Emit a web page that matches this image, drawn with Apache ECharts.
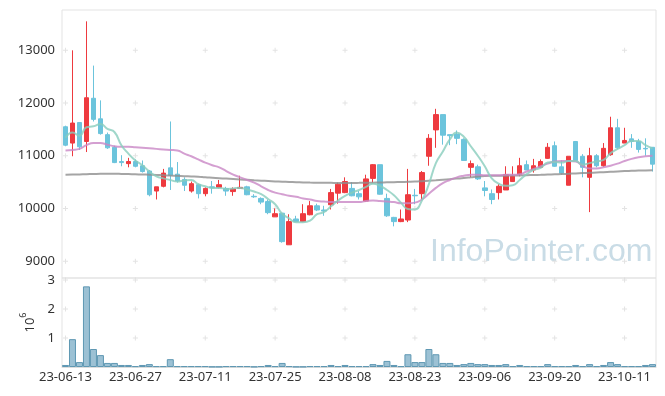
<!DOCTYPE html>
<html><head><meta charset="utf-8">
<script src="https://cdn.jsdelivr.net/npm/echarts@6/dist/echarts.min.js"></script>
<style>html,body{margin:0;padding:0;background:#fff}#c{width:665px;height:396px}</style>
</head><body><div id="c"></div>
<script>
const dates = ['23-06-13','23-06-14','23-06-15','23-06-16','23-06-19','23-06-20','23-06-21','23-06-22','23-06-23','23-06-26',
'23-06-27','23-06-28','23-06-29','23-06-30','23-07-03','23-07-04','23-07-05','23-07-06','23-07-07','23-07-10',
'23-07-11','23-07-12','23-07-13','23-07-14','23-07-17','23-07-18','23-07-19','23-07-20','23-07-21','23-07-24',
'23-07-25','23-07-26','23-07-27','23-07-28','23-07-31','23-08-01','23-08-02','23-08-03','23-08-04','23-08-07',
'23-08-08','23-08-09','23-08-10','23-08-11','23-08-14','23-08-16','23-08-17','23-08-18','23-08-21','23-08-22',
'23-08-23','23-08-24','23-08-25','23-08-28','23-08-29','23-08-30','23-08-31','23-09-01','23-09-04','23-09-05',
'23-09-06','23-09-07','23-09-08','23-09-11','23-09-12','23-09-13','23-09-14','23-09-15','23-09-18','23-09-19',
'23-09-20','23-09-21','23-09-22','23-09-25','23-09-26','23-09-27','23-10-04','23-10-05','23-10-06','23-10-10',
'23-10-11','23-10-12','23-10-13','23-10-16','23-10-17'];

const opens = [11550,11240,11630,11270,12090,11700,11400,11160,10890,10850,
10890,10810,10710,10330,10420,10770,10650,10550,10330,10450,
10280,10410,10400,10380,10320,10380,10410,10230,10190,10130,
9840,9910,9310,9800,9750,9880,10050,9970,10070,10290,
10300,10380,10280,10140,10570,10830,10190,9830,9750,9780,
10250,10280,10990,11490,11780,11400,11410,11310,10780,10790,
10390,10280,10300,10350,10510,10650,10830,10730,10780,10950,
11190,10790,10440,11270,10990,10590,11000,10810,11020,11530,
11240,11320,11270,11140,11160];
const closes = [11200,11620,11170,12100,11690,11420,11150,10870,10870,10890,
10800,10700,10260,10410,10670,10630,10520,10440,10470,10280,
10380,10390,10450,10330,10370,10400,10260,10220,10120,9920,
9900,9370,9750,9750,9900,10050,9970,9950,10300,10460,
10510,10240,10220,10560,10830,10270,9860,9750,9800,10260,
10240,10680,11330,11780,11390,11380,11330,10910,10850,10560,
10340,10170,10420,10640,10610,10810,10730,10810,10890,11160,
10800,10670,10990,10910,10780,11000,10810,11140,11530,11150,
11290,11270,11120,11130,10840];
const lows = [11180,10990,11110,11070,11650,11400,11130,10860,10800,10780,
10780,10680,10230,10170,10400,10350,10490,10330,10300,10190,
10230,10280,10380,10240,10240,10380,10250,10200,10080,9890,
9840,9350,9310,9740,9740,9870,9950,9860,9980,10090,
10290,10230,10170,10130,10490,10260,9840,9660,9740,9740,
10080,10170,10810,11150,11210,11200,11220,10900,10590,10540,
10230,10080,10170,10350,10510,10610,10730,10680,10770,10940,
10790,10640,10440,10900,10590,9930,10780,10790,11000,11130,
11240,11150,11060,11000,10700];
const highs = [11570,13000,11630,13550,12710,12050,11440,11190,11010,10960,
10930,10910,10730,10410,10750,11650,10880,10590,10510,10470,
10400,10520,10540,10410,10400,10620,10430,10270,10210,10170,
10000,9910,9890,9860,10080,10140,10090,10050,10370,10490,
10590,10500,10330,10640,10840,10830,10280,9840,9980,10750,
10370,10710,11410,11890,11780,11400,11480,11330,10910,10830,
10520,10360,10460,10800,10800,10960,10910,10940,10930,11240,
11270,10910,10990,11280,11030,11150,11030,11240,11740,11700,
11530,11410,11320,11330,11160];

const ma5 = [11340,11440,11380,11540,11560,11600,11510,11450,11200,11040,
10910,10820,10700,10610,10570,10540,10510,10530,10540,10460,
10420,10390,10390,10370,10380,10390,10360,10320,10270,10180,
10080,9900,9810,9740,9740,9770,9890,9930,10040,10150,
10240,10300,10350,10410,10470,10430,10350,10250,10110,9990,
9980,10150,10460,10860,11080,11310,11440,11360,11180,11000,
10800,10570,10470,10430,10440,10540,10650,10730,10770,10870,
10880,10870,10900,10900,10830,10860,10890,10920,11050,11130,
11200,11280,11280,11200,11140];
const ma20 = [11100,11110,11130,11200,11240,11240,11210,11180,11170,11170,
11160,11150,11140,11130,11120,11110,11100,11040,10990,10930,
10870,10820,10780,10710,10640,10590,10540,10490,10420,10350,
10300,10270,10240,10220,10190,10170,10140,10130,10120,10120,
10120,10120,10120,10140,10150,10140,10130,10120,10100,10100,
10110,10170,10280,10390,10480,10540,10590,10620,10640,10640,
10630,10630,10630,10640,10640,10650,10700,10750,10800,10850,
10890,10900,10900,10890,10810,10760,10760,10780,10810,10850,
10900,10940,10970,10990,11000];
const maLong = [10638,10642,10646,10650,10653,10656,10657,10657,10655,10652,
10648,10644,10640,10635,10630,10624,10618,10612,10606,10600,
10590,10582,10574,10566,10558,10550,10542,10534,10527,10520,
10513,10507,10502,10497,10493,10490,10488,10486,10485,10484,
10484,10484,10485,10487,10489,10492,10495,10498,10501,10505,
10510,10518,10527,10536,10546,10556,10566,10576,10590,10605,
10615,10619,10620,10622,10624,10626,10630,10634,10638,10643,
10648,10653,10658,10664,10670,10676,10682,10688,10694,10700,
10708,10713,10718,10722,10725];

const volumes = [70000,960000,170000,2780000,620000,410000,140000,140000,70000,70000,
30000,70000,100000,30000,30000,270000,30000,30000,30000,30000,
30000,10000,10000,30000,30000,30000,30000,10000,30000,70000,
30000,140000,30000,10000,10000,30000,30000,30000,70000,30000,
70000,30000,30000,30000,100000,70000,210000,70000,30000,440000,
170000,170000,620000,440000,140000,140000,70000,100000,140000,100000,
100000,70000,70000,100000,30000,70000,30000,30000,30000,100000,
30000,30000,30000,70000,30000,100000,30000,70000,170000,100000,
30000,30000,30000,70000,100000];

const priceTicks = [9000,10000,11000,12000,13000];
const volumeTicks = [1000000,2000000,3000000];
const labelEvery = 10;

const FONT = 'Noto Sans';
const plusPath = 'path://M2,0H3V2H5V3H3V5H2V3H0V2H2Z';
const xTickIdx = dates.map((d,i)=>i).filter(i=>i%labelEvery===0);
const plusTop = [], plusVol = [];
xTickIdx.forEach(i=>{ priceTicks.forEach(v=>plusTop.push([i,v])); volumeTicks.forEach(v=>plusVol.push([i,v])); });

const chart = echarts.init(document.getElementById('c'), null, {renderer:'canvas'});
const lineSeries = (data,color)=>({type:'line',xAxisIndex:0,yAxisIndex:0,data,smooth:true,showSymbol:false,silent:true,
  lineStyle:{color,width:2,opacity:0.8},z:4});
chart.setOption({
  animation:false,
  backgroundColor:'#ffffff',
  textStyle:{fontFamily:FONT},
  graphic:[{type:'text',left:430,top:236,z:1,silent:true,
    style:{text:'InfoPointer.com',font:'32px "Liberation Sans", Arial, sans-serif',fill:'#c9dce6'}}],
  grid:[
    {left:62,right:9,top:10,height:268,show:true,borderColor:'#e3e3e3',borderWidth:1},
    {left:62,right:9,top:278,height:89,show:true,borderColor:'#e3e3e3',borderWidth:1}
  ],
  xAxis:[
    {type:'category',gridIndex:0,data:dates,boundaryGap:true,axisLine:{show:false},axisTick:{show:false},axisLabel:{show:false},splitLine:{show:false}},
    {type:'category',gridIndex:1,data:dates,boundaryGap:true,axisLine:{show:true,lineStyle:{color:'#dddddd'}},axisTick:{show:false},
      axisLabel:{interval:labelEvery-1,color:'#333',fontSize:13,fontFamily:FONT,margin:4},splitLine:{show:false}}
  ],
  yAxis:[
    {type:'value',gridIndex:0,min:8680,max:13765,splitNumber:5,axisLine:{show:false},axisTick:{show:false},splitLine:{show:false},
      axisLabel:{color:'#333',fontSize:13,fontFamily:FONT,margin:7,showMinLabel:false,showMaxLabel:false,
        formatter:v=>priceTicks.includes(v)?String(v):''}},
    {type:'value',gridIndex:1,min:0,max:3068000,splitNumber:3,axisLine:{show:false},axisTick:{show:false},splitLine:{show:false},
      axisLabel:{color:'#333',fontSize:13,fontFamily:FONT,margin:7,showMinLabel:false,showMaxLabel:false,
        formatter:v=>volumeTicks.includes(v)?String(v/1000000):''},
      name:'{b|10}{s|6}',nameLocation:'middle',nameRotate:90,nameGap:21,
      nameTextStyle:{rich:{b:{fontSize:13,color:'#333',fontFamily:FONT,verticalAlign:'bottom',lineHeight:18},
                           s:{fontSize:9,color:'#333',fontFamily:FONT,verticalAlign:'top',lineHeight:18}}}}
  ],
  series:[
    {type:'scatter',xAxisIndex:0,yAxisIndex:0,data:plusTop,symbol:plusPath,symbolSize:5,silent:true,itemStyle:{color:'#dcdcdc'},z:1},
    {type:'scatter',xAxisIndex:1,yAxisIndex:1,data:plusVol,symbol:plusPath,symbolSize:5,silent:true,itemStyle:{color:'#dcdcdc'},z:1},
    {type:'candlestick',xAxisIndex:0,yAxisIndex:0,barWidth:5,silent:true,
      data:dates.map((d,i)=>[opens[i],closes[i],lows[i],highs[i]]),
      itemStyle:{color:'#ee3a3f',color0:'#6cc4dc',borderColor:'#ee3a3f',borderColor0:'#6cc4dc',borderWidth:1},z:3},
    lineSeries(maLong,'#8f8f8f'),
    lineSeries(ma20,'#c987c6'),
    lineSeries(ma5,'#88cdbd'),
    {type:'bar',xAxisIndex:1,yAxisIndex:1,data:volumes,barWidth:'100%',barCategoryGap:'0%',silent:true,
      itemStyle:{color:'rgba(128,176,200,0.78)',borderColor:'#5f98b3',borderWidth:1},z:3}
  ]
});
</script></body></html>
